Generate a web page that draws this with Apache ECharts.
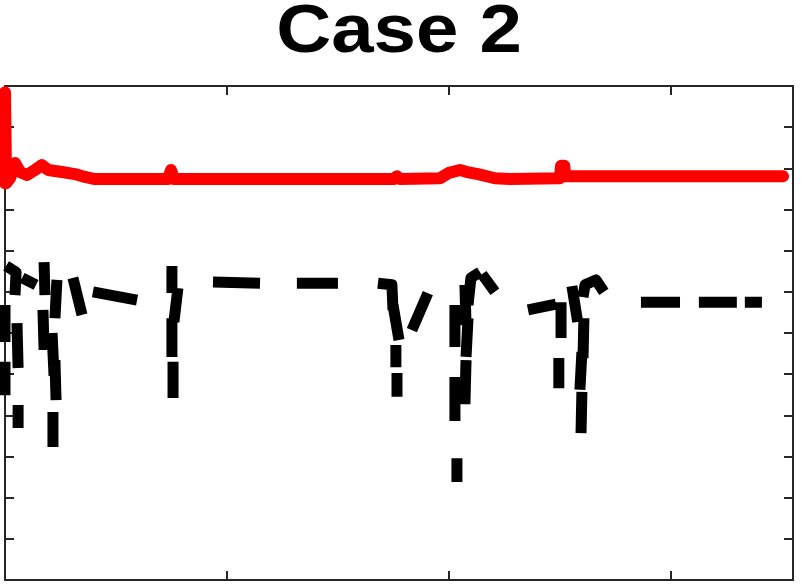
<!DOCTYPE html>
<html>
<head>
<meta charset="utf-8">
<script src="https://cdn.jsdelivr.net/npm/echarts@6/dist/echarts.min.js"></script>
<style>
  html, body { margin: 0; padding: 0; background: #fff; }
  #chart { width: 801px; height: 585px; }
</style>
</head>
<body>
<div id="chart"></div>
<script>
// red estimate (time, value)
const redTime = [0.0, 0.0, 0.005, 0.023, 0.045, 0.068, 0.099, 0.135, 0.167, 0.194, 0.257, 0.315, 0.360, 0.405,
  0.734, 0.748, 0.761, 1.752, 1.766, 1.779, 1.959, 2.000, 2.050, 2.081, 2.131, 2.207, 2.275,
  2.500, 2.505, 2.520, 2.523, 2.680, 3.505];
const redValue = [9.64, 11.85, 9.64, 9.76, 10.13, 9.91, 9.84, 9.96, 10.08, 9.96, 9.91, 9.86, 9.79, 9.74,
  9.74, 9.96, 9.74, 9.74, 9.81, 9.74, 9.76, 9.89, 9.96, 9.91, 9.86, 9.76, 9.74,
  9.76, 10.06, 10.06, 9.81, 9.81, 9.81];

// black dashed estimate, null = gap in the record
const blackTime = [
  0.005, 0.050, 0.045, null, 0.0, 0.0, null, 0.054, 0.059, null, 0.0, 0.0, null, 0.059, 0.059, null,
  0.077, 0.140, null, 0.176, 0.180, null, 0.171, 0.176, null, 0.212, 0.221, null, 0.225, 0.230, null,
  0.216, 0.216, null, 0.234, 0.225, null, 0.306, 0.347, null, 0.396, 0.595, null,
  0.752, 0.752, null, 0.779, 0.761, null, 0.752, 0.752, null, 0.757, 0.757, null,
  0.937, 1.149, null, 1.315, 1.500, null,
  1.680, 1.743, 1.748, null, 1.748, 1.775, null, 1.761, 1.761, null, 1.766, 1.766, null, 1.905, 1.833, null,
  2.086, 2.099, 2.140, null, 2.149, 2.207, null, 2.072, 2.077, null, 2.027, 2.027, null, 2.086, 2.077, null,
  2.077, 2.072, null, 2.027, 2.027, null, 2.036, 2.036, null,
  2.356, 2.482, null, 2.505, 2.505, null, 2.495, 2.495, null, 2.554, 2.580, null, 2.608, 2.604, null,
  2.599, 2.590, null, 2.599, 2.595, null, 2.604, 2.613, 2.662, 2.698, null,
  2.865, 3.041, null, 3.126, 3.297, null, 3.333, 3.410];
const blackValue = [
  7.63, 7.48, 6.92, null, 6.68, 5.78, null, 6.24, 5.15, null, 5.30, 4.49, null, 4.25, 3.69, null,
  7.34, 7.17, null, 7.72, 6.92, null, 6.56, 5.59, null, 6.00, 4.96, null, 5.34, 4.37, null,
  4.08, 3.23, null, 7.29, 6.36, null, 7.34, 6.44, null, 7.00, 6.80, null,
  7.63, 6.97, null, 7.09, 6.27, null, 6.36, 5.42, null, 5.30, 4.42, null,
  7.24, 7.21, null, 7.21, 7.21, null,
  7.21, 7.17, 6.56, null, 6.68, 5.83, null, 5.71, 5.17, null, 5.03, 4.45, null, 6.97, 6.07, null,
  6.68, 7.34, 7.48, null, 7.43, 7.00, null, 7.17, 6.19, null, 6.68, 5.66, null, 6.36, 5.42, null,
  5.34, 4.27, null, 4.93, 3.86, null, 2.96, 2.38, null,
  6.56, 6.70, null, 6.75, 5.88, null, 5.39, 4.66, null, 7.14, 6.27, null, 6.36, 5.39, null,
  5.54, 4.62, null, 4.57, 3.57, null, 6.87, 7.17, 7.29, 7.00, null,
  6.75, 6.75, null, 6.75, 6.75, null, 6.75, 6.75];

const xMin = 0, xMax = 3.55, xStep = 1;
const yMin = 0, yMax = 12, yStep = 1;

function pairs(xs, ys) {
  return xs.map((x, i) => (x == null || ys[i] == null) ? ["-", "-"] : [x, ys[i]]);
}

const chart = echarts.init(document.getElementById("chart"));

const axisLine = { show: true, onZero: false, lineStyle: { color: "#262626", width: 2 } };
const axisTick = { show: true, inside: true, length: 9, lineStyle: { color: "#262626", width: 2 } };

function xAxisAt(pos) {
  return {
    type: "value", position: pos, min: xMin, max: xMax, interval: xStep,
    axisLine: axisLine, axisTick: axisTick, axisLabel: { show: false }, splitLine: { show: false }
  };
}
function yAxisAt(pos) {
  return {
    type: "value", position: pos, min: yMin, max: yMax, interval: yStep,
    axisLine: axisLine, axisTick: axisTick, axisLabel: { show: false }, splitLine: { show: false }
  };
}

chart.setOption({
  animation: false,
  // title drawn as text, stretched a little sideways like the original figure
  graphic: [{
    type: "text",
    x: 399,
    y: 33,
    scaleX: 1.12,
    style: {
      text: "Case 2",
      font: "bold 68px 'Liberation Sans', Arial, Helvetica, sans-serif",
      fill: "#000",
      align: "center",
      verticalAlign: "middle"
    }
  }],
  grid: { left: 5, right: 8, top: 86, bottom: 5 },
  xAxis: [xAxisAt("bottom"), xAxisAt("top")],
  yAxis: [yAxisAt("left"), yAxisAt("right")],
  series: [
    {
      type: "line",
      xAxisIndex: 0, yAxisIndex: 0,
      data: pairs(blackTime, blackValue),
      symbol: "none",
      clip: false,
      connectNulls: false,
      lineStyle: { color: "#000", width: 11, type: [48, 30], cap: "butt", join: "round" },
      z: 2
    },
    {
      type: "line",
      xAxisIndex: 0, yAxisIndex: 0,
      data: pairs(redTime, redValue),
      symbol: "none",
      clip: false,
      lineStyle: { color: "#ff0000", width: 12, cap: "round", join: "round" },
      z: 3
    }
  ]
});
</script>
</body>
</html>
